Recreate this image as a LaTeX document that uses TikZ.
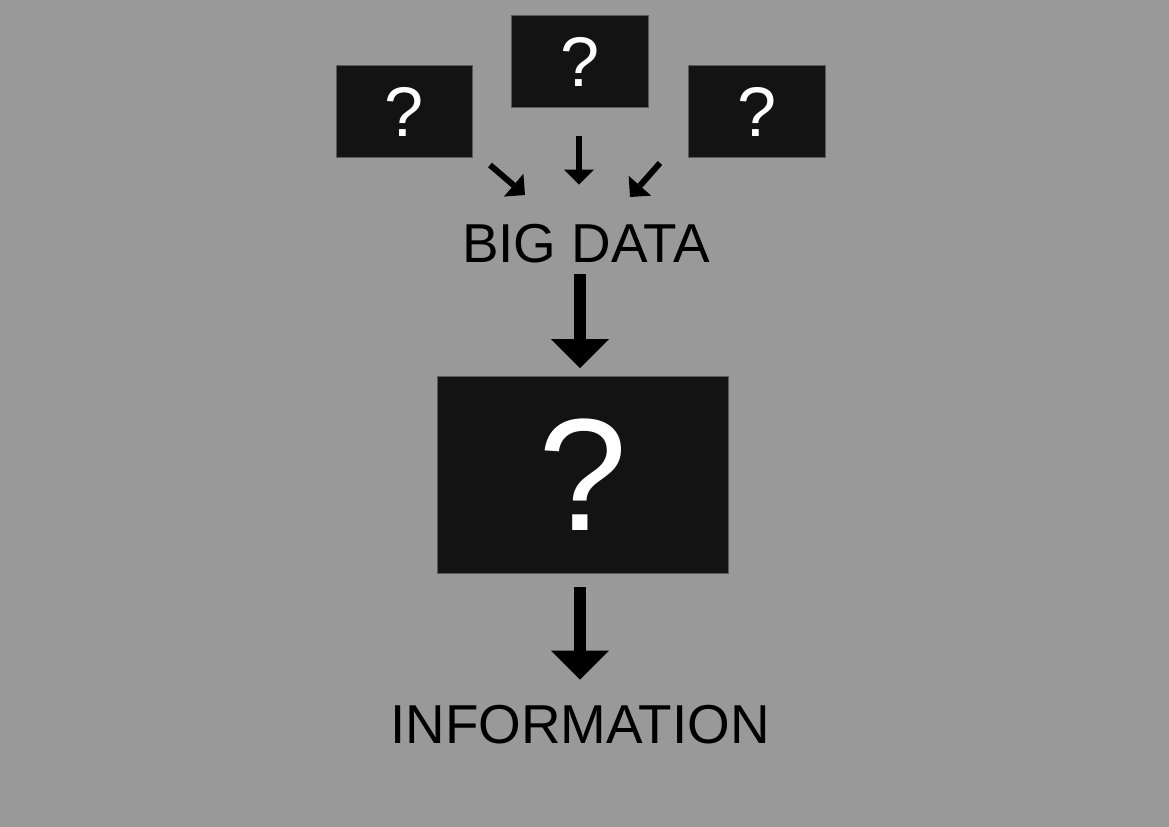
\documentclass[tikz,border=0pt]{standalone}
\usepackage{fontspec}
\setmainfont{Liberation Sans}
\definecolor{bggray}{RGB}{153, 153, 153}
\definecolor{boxblack}{RGB}{19, 19, 19}
\definecolor{boxedge}{RGB}{90, 90, 90}
\usetikzlibrary{arrows.meta, calc}

\tikzset{
  qbox/.style={draw=boxedge, line width=0.02cm, fill=boxblack, text=white, inner sep=0pt, outer sep=0pt,
    minimum width=2.74cm, minimum height=1.86cm, font=\fontsize{40}{44}\selectfont},
  bigbox/.style={qbox, minimum width=5.84cm, minimum height=3.96cm, font=\fontsize{91}{100}\selectfont},
  label/.style={inner sep=0pt, outer sep=0pt, anchor=base, font=\fontsize{31.2}{36}\selectfont},
  smallarrow/.style={line width=0.12cm, -{Triangle[length=0.3cm, width=0.6cm, line width=0pt]}},
  bigarrow/.style={line width=0.24cm, -{Triangle[length=0.58cm, width=1.16cm, line width=0pt]}}
}

\begin{document}
\begin{tikzpicture}[x=0.02cm, y=-0.02cm]
  % background
  \fill[bggray] (0, 0) rectangle (1169, 827);

  % sources
  \node[qbox] (qleft) at (404.5, 111.5) {?};
  \node[qbox] (qtop) at (580, 61.5) {?};
  \node[qbox] (qright) at (757, 111.5) {?};

  % labels
  \node[label] (bigdata) at (586, 263) {BIG DATA};
  \node[label] (info) at (580, 743) {INFORMATION};

  % the unknown step
  \node[bigbox] (qbig) at (583, 475) {?};

  % small arrows into big data
  \coordinate (fromleft) at (490, 165);
  \coordinate (toleft) at (525, 195);
  \coordinate (fromright) at (660, 163);
  \coordinate (toright) at (630, 197);
  \draw[smallarrow] (fromleft) -- (toleft);
  \draw[smallarrow, shorten <=0.56cm, shorten >=0.8cm] ($(qtop.south)+(-1,0)$) -- ($(bigdata.north -| qtop.south)+(-1,0)$);
  \draw[smallarrow] (fromright) -- (toright);

  % big arrows
  \draw[bigarrow, shorten <=0.2cm, shorten >=0.16cm] (bigdata.south -| qtop.south) -- (qbig.north -| qtop.south);
  \draw[bigarrow, shorten <=0.26cm, shorten >=0.5cm] (qbig.south -| qtop.south) -- (info.north -| qtop.south);
\end{tikzpicture}
\end{document}
